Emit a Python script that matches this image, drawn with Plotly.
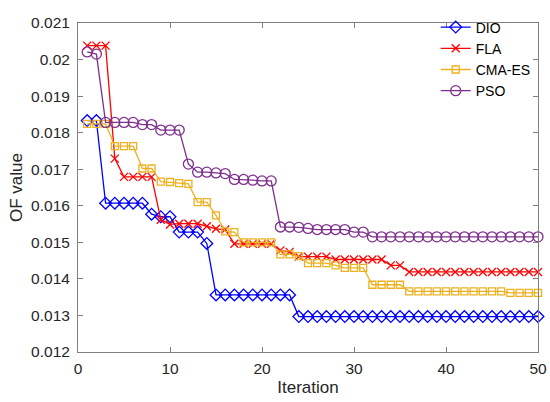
import plotly.graph_objects as go

iterations = list(range(1, 51))

dio = [0.01833, 0.01833, 0.01607, 0.01607, 0.01607, 0.01607, 0.01607, 0.01577, 0.01570, 0.01570,
       0.01528, 0.01528, 0.01528, 0.01497, 0.01356, 0.01356, 0.01356, 0.01356, 0.01356, 0.01356,
       0.01356, 0.01356, 0.01356] + [0.01297] * 27

fla = [0.02038, 0.02038, 0.02038, 0.01729, 0.01679, 0.01679, 0.01679, 0.01679, 0.01562, 0.01549,
       0.01551, 0.01551, 0.01551, 0.01544, 0.01537, 0.01535, 0.01496, 0.01496, 0.01496, 0.01496,
       0.01496, 0.01478, 0.01474, 0.01461, 0.01461, 0.01461, 0.01461, 0.01453, 0.01453, 0.01453,
       0.01453, 0.01453, 0.01453, 0.01437, 0.01437] + [0.01419] * 15

cma = [0.01824, 0.01824, 0.01824, 0.01763, 0.01763, 0.01763, 0.01702, 0.01702, 0.01666, 0.01665,
       0.01662, 0.01660, 0.01610, 0.01610, 0.01574, 0.01530, 0.01528, 0.01500, 0.01500, 0.01500,
       0.01500, 0.01467, 0.01467, 0.01462, 0.01443, 0.01443, 0.01443, 0.01437, 0.01430, 0.01430,
       0.01430, 0.01384, 0.01384, 0.01384, 0.01384, 0.01366, 0.01366, 0.01366, 0.01366, 0.01366,
       0.01366, 0.01366, 0.01366, 0.01366, 0.01366, 0.01366, 0.01362, 0.01362, 0.01362, 0.01362]

pso = [0.02021, 0.02015, 0.01828, 0.01828, 0.01828, 0.01828, 0.01822, 0.01822, 0.01807, 0.01807,
       0.01807, 0.01714, 0.01692, 0.01692, 0.01690, 0.01688, 0.01672, 0.01672, 0.01670, 0.01668,
       0.01668, 0.01542, 0.01542, 0.01541, 0.01538, 0.01535, 0.01535, 0.01535, 0.01535, 0.01528,
       0.01528] + [0.01515] * 19

y_ticks = [0.012, 0.013, 0.014, 0.015, 0.016, 0.017, 0.018, 0.019, 0.020, 0.021]
y_tick_labels = ["0.012", "0.013", "0.014", "0.015", "0.016", "0.017", "0.018", "0.019", "0.02", "0.021"]
x_ticks = [0, 10, 20, 30, 40, 50]

series = [
    ("DIO", dio, "#0000FF", "diamond-open", 9),
    ("FLA", fla, "#FF0000", "x-thin-open", 8),
    ("CMA-ES", cma, "#EDB120", "square-open", 7),
    ("PSO", pso, "#7E2F8E", "circle-open", 10),
]

fig = go.Figure()
for name, vals, color, sym, size in series:
    fig.add_trace(go.Scatter(
        x=iterations, y=vals, name=name, mode="lines+markers", cliponaxis=False,
        line=dict(color=color, width=1.3),
        marker=dict(symbol=sym, size=size, color=color, line=dict(color=color, width=1.3)),
    ))

axis_common = dict(
    showline=True, linecolor="#808080", linewidth=1, mirror="ticks", automargin=False,
    ticks="inside", ticklen=5, tickcolor="#808080", showgrid=False, zeroline=False,
    tickfont=dict(family="Liberation Sans, Arial, sans-serif", size=15.5, color="#262626"),
)

fig.update_layout(
    width=550, height=402,
    margin=dict(l=78, r=12, t=12, b=50),
    paper_bgcolor="white", plot_bgcolor="white",
    font=dict(family="Liberation Sans, Arial, sans-serif", color="#262626"),
    xaxis=dict(range=[0, 50], tickvals=x_ticks, ticklabelstandoff=2,
               title=dict(text="Iteration", font=dict(size=17), standoff=5), **axis_common),
    yaxis=dict(range=[0.012, 0.021], tickvals=y_ticks, ticktext=y_tick_labels, ticklabelstandoff=4,
               title=dict(text="OF value", font=dict(size=17), standoff=4), **axis_common),
    legend=dict(x=0.995, xanchor="right", y=1.035, yanchor="top",
                bgcolor="rgba(0,0,0,0)", borderwidth=0,
                font=dict(size=14, color="#000000"), tracegroupgap=0, itemwidth=30),
    showlegend=True,
)

fig.write_html("out.html", config={"displayModeBar": False},
               post_script="document.body.style.margin='0px';document.body.style.padding='0px';")
